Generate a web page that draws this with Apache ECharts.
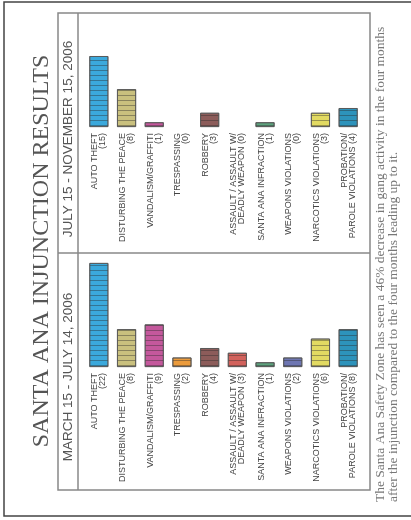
<!DOCTYPE html>
<html>
<head>
<meta charset="utf-8">
<script src="https://cdn.jsdelivr.net/npm/echarts@6/dist/echarts.min.js"></script>
<style>
html,body{margin:0;padding:0;background:#fff;}
#c{width:411px;height:520px;}
</style>
</head>
<body>
<div id="c"></div>
<script>
const title = 'SANTA ANA INJUNCTION RESULTS';
const periodBefore = 'MARCH 15 - JULY 14, 2006';
const periodAfter = 'JULY 15 - NOVEMBER 15, 2006';
const footerLines = [
  'The Santa Ana Safety Zone has seen a 46% decrease in gang activity in the four months',
  'after the injunction compared to the four months leading up to it.'
];
const categories = ['AUTO THEFT', 'DISTURBING THE PEACE', 'VANDALISM/GRAFFITI', 'TRESPASSING', 'ROBBERY',
  'ASSAULT / ASSAULT W/\nDEADLY WEAPON', 'SANTA ANA INFRACTION', 'WEAPONS VIOLATIONS',
  'NARCOTICS VIOLATIONS', 'PROBATION/\nPAROLE VIOLATIONS'];
const before = [22, 8, 9, 2, 4, 3, 1, 2, 6, 8];
const after = [15, 8, 1, 0, 3, 0, 1, 0, 3, 4];
const colors = ['#3ba9dc', '#c9c07e', '#c4589c', '#eb9b3c', '#8c5c5a', '#d2625c', '#5ea27e', '#6e76b2', '#e2da62', '#2d93bb'];

function makeLabel(values) {
  return function (v, i) {
    const n = values[i];
    if (v.indexOf('\n') >= 0) return v + ' (' + n + ')';
    return v + '\n(' + n + ')';
  };
}
const decal = {
  symbol: 'rect', symbolSize: 1, dashArrayX: [1, 0], dashArrayY: [1, 3.7],
  color: 'rgba(40,40,40,0.4)', rotation: 0
};
function makeData(values) {
  return values.map((v, i) => ({
    value: v === 0 ? '-' : v,
    itemStyle: { color: colors[i], borderColor: '#555', borderWidth: 0.8, decal: decal }
  }));
}
const axisLabelBase = {
  rotate: 90, fontSize: 9, color: '#444', margin: 6, interval: 0,
  fontFamily: 'Liberation Sans, Arial, sans-serif', lineHeight: 8
};

const chart = echarts.init(document.getElementById('c'), null, { renderer: 'canvas' });
const serif = 'Liberation Serif, Times New Roman, serif';
const sans = 'Liberation Sans, Arial, sans-serif';
chart.setOption({
  animation: false,
  grid: [
    { left: 85, width: 277, top: 23, height: 104 },
    { left: 85, width: 277, top: 263, height: 104 }
  ],
  xAxis: [
    { gridIndex: 0, type: 'category', data: categories, axisLine: { show: false }, axisTick: { show: false },
      axisLabel: Object.assign({}, axisLabelBase, { formatter: makeLabel(after) }) },
    { gridIndex: 1, type: 'category', data: categories, axisLine: { show: false }, axisTick: { show: false },
      axisLabel: Object.assign({}, axisLabelBase, { formatter: makeLabel(before) }) }
  ],
  yAxis: [
    { gridIndex: 0, type: 'value', min: 0, max: 22, show: false },
    { gridIndex: 1, type: 'value', min: 0, max: 22, show: false }
  ],
  series: [
    { type: 'bar', xAxisIndex: 0, yAxisIndex: 0, barWidth: 19, data: makeData(after) },
    { type: 'bar', xAxisIndex: 1, yAxisIndex: 1, barWidth: 19, data: makeData(before) }
  ],
  graphic: [
    { type: 'rect', shape: { x: 4, y: 2, width: 420, height: 514 }, style: { fill: 'none', stroke: '#444', lineWidth: 1.5 }, silent: true },
    { type: 'rect', shape: { x: 58, y: 13, width: 312, height: 477 }, style: { fill: 'none', stroke: '#888', lineWidth: 1.5 }, silent: true },
    { type: 'line', shape: { x1: 78, y1: 13, x2: 78, y2: 490 }, style: { stroke: '#888', lineWidth: 1.5 }, silent: true },
    { type: 'line', shape: { x1: 58, y1: 253, x2: 370, y2: 253 }, style: { stroke: '#888', lineWidth: 1.5 }, silent: true },
    { type: 'text', x: 42, y: 251, rotation: Math.PI / 2,
      style: { text: title, font: '24px ' + serif, fill: '#555', align: 'center', verticalAlign: 'middle' } },
    { type: 'text', x: 68, y: 377, rotation: Math.PI / 2,
      style: { text: periodBefore, font: '13.5px ' + sans, fill: '#555', align: 'center', verticalAlign: 'middle' } },
    { type: 'text', x: 68, y: 139, rotation: Math.PI / 2,
      style: { text: periodAfter, font: '13.5px ' + sans, fill: '#555', align: 'center', verticalAlign: 'middle' } },
    { type: 'text', x: 380, y: 502, rotation: Math.PI / 2,
      style: { text: footerLines[0], font: '13.5px ' + serif, fill: '#777', align: 'left', verticalAlign: 'middle' } },
    { type: 'text', x: 393, y: 502, rotation: Math.PI / 2,
      style: { text: footerLines[1], font: '13.5px ' + serif, fill: '#777', align: 'left', verticalAlign: 'middle' } }
  ]
});
</script>
</body>
</html>
